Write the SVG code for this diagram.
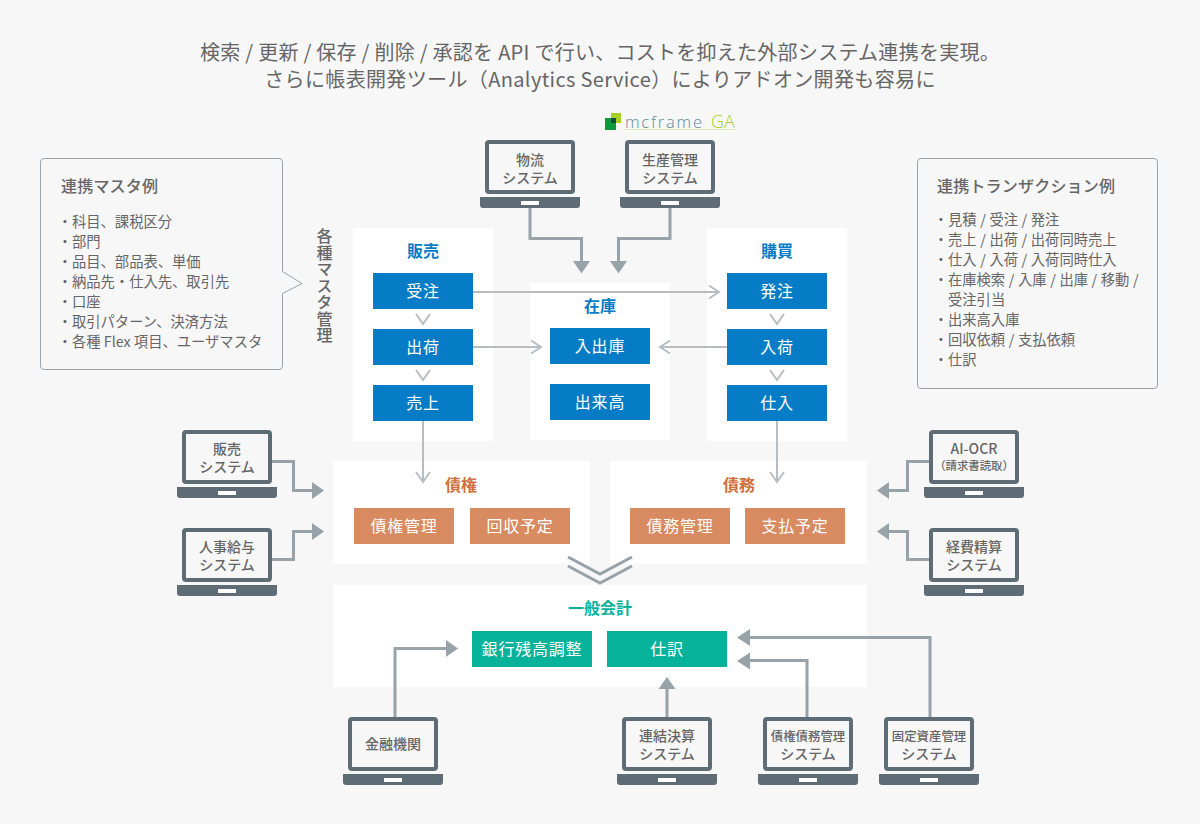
<svg xmlns="http://www.w3.org/2000/svg" width="1200" height="824" viewBox="0 0 1200 824">
<style>
text{font-family:"Noto Sans CJK JP","Noto Sans",sans-serif;}
.lead{font-size:20px;fill:#666;text-anchor:middle;letter-spacing:.36px}
.lead.a{letter-spacing:.27px}
.panel{fill:#fff}
.bx{font-size:16px;fill:#fff;text-anchor:middle;letter-spacing:.8px}
.blue{fill:#077cc6}.org{fill:#d88a60}.grn{fill:#06b39a}
.h{font-size:16px;font-weight:700;text-anchor:middle}
.lap{font-size:14px;font-weight:500;fill:#666;text-anchor:middle}
.lap.s{font-size:12.4px}
.lap.xs{font-size:11.4px}
.scr{fill:#f7f7f8;stroke:#5e6c75;stroke-width:4}
.base{fill:#5e6c75}
.call{fill:#f7f7f8;stroke:#97a3a9;stroke-width:1}
.ct{font-size:16px;font-weight:500;fill:#666;letter-spacing:.2px}
.li{font-size:14.3px;fill:#666}
.li.r{word-spacing:.4px}
.v{font-size:16px;font-weight:500;fill:#666;writing-mode:vertical-rl;letter-spacing:.5px}
.thin{fill:none;stroke:#b6bec3;stroke-width:2}
.thick{fill:none;stroke:#97a3a9;stroke-width:3}
.tri{fill:#97a3a9}
</style>
<defs>
<g id="laptop">
<rect class="scr" x="2" y="2" width="86" height="50" rx="2"/>
<path class="base" d="M-5 57H95V65a3 3 0 0 1-3 3H-2a3 3 0 0 1-3-3Z"/>
<rect x="36" y="61" width="18" height="4" fill="#fff"/>
</g>
</defs>
<rect width="1200" height="824" fill="#f7f7f8"/>
<g id="lead">
<text class="lead a" x="600" y="60">検索 / 更新 / 保存 / 削除 / 承認を API で行い、コストを抑えた外部システム連携を実現。</text>
<text class="lead" x="600" y="87">さらに帳表開発ツール（Analytics Service）によりアドオン開発も容易に</text>
</g>
<g id="logo">
<rect x="605" y="118" width="11" height="12" fill="#0d9a3b"/>
<rect x="611" y="113" width="10" height="10" fill="#a6cf22"/>
<rect x="611" y="118" width="5" height="5" fill="#0b4f3a"/>
<text x="625" y="128" font-size="16.5" font-weight="300" fill="#5c8a9c" letter-spacing="1.8" style="font-family:'Open Sans',sans-serif">mcframe</text>
<text x="711" y="128" font-size="18" font-weight="300" fill="#a6cf22" style="font-family:'Open Sans',sans-serif">GA</text>
<rect x="625" y="129" width="110" height="1" fill="#dbe9b4"/>
</g>
<g id="callout-master">
<path class="call" d="M44 158.500H279a3.500 3.500 0 0 1 3.500 3.500V271.500L302 283.500L282.500 293.500V366a3.500 3.500 0 0 1-3.500 3.500H44a3.500 3.500 0 0 1-3.500-3.500V162a3.500 3.500 0 0 1 3.500-3.500Z"/>
<text class="ct" x="61" y="192">連携マスタ例</text>
<text class="li" x="57.700" y="227">・科目、課税区分</text>
<text class="li" x="57.700" y="247">・部門</text>
<text class="li" x="57.700" y="267">・品目、部品表、単価</text>
<text class="li" x="57.700" y="287">・納品先・仕入先、取引先</text>
<text class="li" x="57.700" y="307">・口座</text>
<text class="li" x="57.700" y="327">・取引パターン、決済方法</text>
<text class="li" x="57.700" y="347">・各種 Flex 項目、ユーザマスタ</text>
</g>
<g id="label-master">
<text class="v" x="324.500" y="228">各種マスタ管理</text>
</g>
<g id="callout-tx">
<rect class="call" x="917.500" y="158.500" width="240" height="230" rx="3.500"/>
<text class="ct" x="937" y="192">連携トランザクション例</text>
<text class="li r" x="933.700" y="225">・見積 / 受注 / 発注</text>
<text class="li r" x="933.700" y="245">・売上 / 出荷 / 出荷同時売上</text>
<text class="li r" x="933.700" y="265">・仕入 / 入荷 / 入荷同時仕入</text>
<text class="li r" x="933.700" y="285">・在庫検索 / 入庫 / 出庫 / 移動 /</text>
<text class="li r" x="948" y="305">受注引当</text>
<text class="li r" x="933.700" y="325">・出来高入庫</text>
<text class="li r" x="933.700" y="345">・回収依頼 / 支払依頼</text>
<text class="li r" x="933.700" y="365">・仕訳</text>
</g>
<g id="sales">
<rect class="panel" x="353" y="228" width="140" height="213"/>
<text class="h" x="423" y="257" fill="#077cc6">販売</text>
<rect class="blue" x="373" y="273" width="100" height="36"/><text class="bx" x="423" y="297">受注</text>
<rect class="blue" x="373" y="329" width="100" height="36"/><text class="bx" x="423" y="353">出荷</text>
<rect class="blue" x="373" y="385" width="100" height="36"/><text class="bx" x="423" y="409">売上</text>
</g>
<g id="inventory">
<rect class="panel" x="530" y="283" width="140" height="157"/>
<text class="h" x="600" y="312" fill="#077cc6">在庫</text>
<rect class="blue" x="550" y="328" width="100" height="36"/><text class="bx" x="600" y="352">入出庫</text>
<rect class="blue" x="550" y="384" width="100" height="36"/><text class="bx" x="600" y="408">出来高</text>
</g>
<g id="purchase">
<rect class="panel" x="707" y="228" width="140" height="213"/>
<text class="h" x="777" y="257" fill="#077cc6">購買</text>
<rect class="blue" x="727" y="273" width="100" height="36"/><text class="bx" x="777" y="297">発注</text>
<rect class="blue" x="727" y="329" width="100" height="36"/><text class="bx" x="777" y="353">入荷</text>
<rect class="blue" x="727" y="385" width="100" height="36"/><text class="bx" x="777" y="409">仕入</text>
</g>
<g id="receivable">
<rect class="panel" x="333" y="461" width="257" height="103"/>
<text class="h" x="461" y="491" fill="#d0703c">債権</text>
<rect class="org" x="354" y="508" width="100" height="36"/><text class="bx" x="404" y="532">債権管理</text>
<rect class="org" x="470" y="508" width="100" height="36"/><text class="bx" x="520" y="532">回収予定</text>
</g>
<g id="payable">
<rect class="panel" x="610" y="461" width="257" height="103"/>
<text class="h" x="739" y="491" fill="#d0703c">債務</text>
<rect class="org" x="630" y="508" width="100" height="36"/><text class="bx" x="680" y="532">債務管理</text>
<rect class="org" x="745" y="508" width="100" height="36"/><text class="bx" x="795" y="532">支払予定</text>
</g>
<g id="ledger">
<rect class="panel" x="333" y="585" width="534" height="102"/>
<text class="h" x="600" y="614" fill="#06b39a">一般会計</text>
<rect class="grn" x="472" y="631" width="120" height="36"/><text class="bx" x="532" y="655">銀行残高調整</text>
<rect class="grn" x="607" y="631" width="120" height="36"/><text class="bx" x="667" y="655">仕訳</text>
</g>
<g id="connectors">
<path class="thin" d="M473 292H718M709 285.500L719 292L709 298.500M473 347H540M531 340.500L541 347L531 353.500M727 347H661M670 340.500L660 347L670 353.500"/>
<path class="thin" d="M416 314L423 324L430 314M416 370L423 380L430 370M770 314L777 324L784 314M770 370L777 380L784 370"/>
<path class="thin" d="M423 421V481M416 472L423 482L430 472M777 421V481M770 472L777 482L784 472"/>
<path class="thick" d="M530 208V238.500H581.500V262M670 208V238.500H618.500V262"/>
<polygon class="tri" points="573,261 590,261 581.500,273.500"/><polygon class="tri" points="610,261 627,261 618.500,273.500"/>
<path class="thick" d="M270 461.500H293.500V490.500H312M270 559.500H293.500V531.500H312"/>
<polygon class="tri" points="312,482 324,490.500 312,499"/><polygon class="tri" points="312,523 324,531.500 312,540"/>
<path class="thick" d="M929 461.500H907.500V490.500H889M929 559.500H907.500V531.500H889"/>
<polygon class="tri" points="889,482 877,490.500 889,499"/><polygon class="tri" points="889,523 877,531.500 889,540"/>
<path class="thick" d="M395 717V648.500H447"/>
<polygon class="tri" points="446,640 458,648.500 446,657"/>
<path class="thick" d="M667 717V688"/>
<polygon class="tri" points="658.500,689 675.500,689 667,677"/>
<path class="thick" d="M807 717V660.500H749M930 717V637.500H749"/>
<polygon class="tri" points="750,652.500 737,661 750,669.500"/><polygon class="tri" points="750,629 737,637.500 750,646"/>
<path class="thick" d="M568 557L600 574L632 557M568 566L600 583L632 566"/>
</g>
<g id="sys-butsuryu"><use href="#laptop" x="485" y="140"/><text class="lap" x="530" y="165">物流</text><text class="lap" x="530" y="183">システム</text></g>
<g id="sys-seisan"><use href="#laptop" x="625" y="140"/><text class="lap" x="670" y="165">生産管理</text><text class="lap" x="670" y="183">システム</text></g>
<g id="sys-hanbai"><use href="#laptop" x="182" y="430"/><text class="lap" x="227" y="454">販売</text><text class="lap" x="227" y="472">システム</text></g>
<g id="sys-jinji"><use href="#laptop" x="182" y="528"/><text class="lap" x="227" y="552">人事給与</text><text class="lap" x="227" y="570">システム</text></g>
<g id="sys-aiocr"><use href="#laptop" x="929" y="430"/><text class="lap" x="974" y="454">AI-OCR</text><text class="lap xs" x="974" y="470">（請求書読取）</text></g>
<g id="sys-keihi"><use href="#laptop" x="929" y="528"/><text class="lap" x="974" y="552">経費精算</text><text class="lap" x="974" y="570">システム</text></g>
<g id="sys-kinyu"><use href="#laptop" x="348" y="717"/><text class="lap" x="393" y="749">金融機関</text></g>
<g id="sys-renketsu"><use href="#laptop" x="622" y="717"/><text class="lap" x="667" y="741">連結決算</text><text class="lap" x="667" y="759">システム</text></g>
<g id="sys-saiken"><use href="#laptop" x="763" y="717"/><text class="lap s" x="808" y="741">債権債務管理</text><text class="lap" x="808" y="759">システム</text></g>
<g id="sys-kotei"><use href="#laptop" x="884" y="717"/><text class="lap s" x="929" y="741">固定資産管理</text><text class="lap" x="929" y="759">システム</text></g>
</svg>
